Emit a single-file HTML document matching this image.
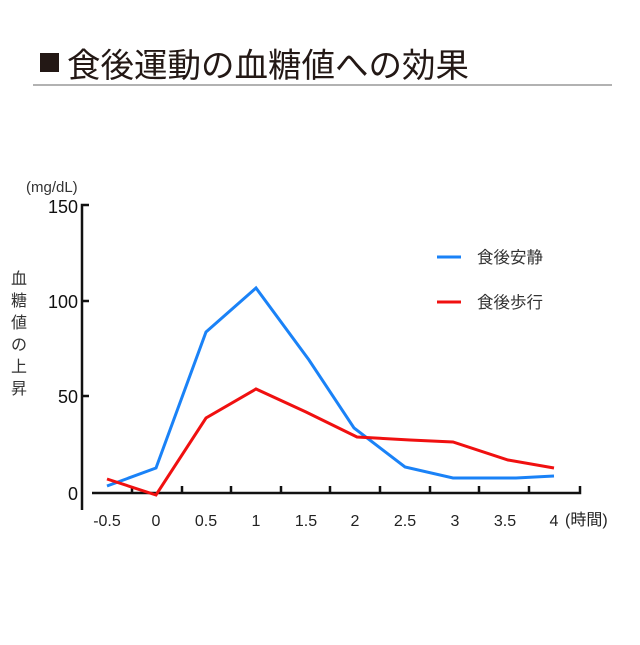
<!DOCTYPE html>
<html><head><meta charset="utf-8"><style>
body{margin:0;background:#fff;width:640px;height:640px;overflow:hidden}
svg text{font-family:"Liberation Sans","Noto Sans CJK JP",sans-serif}
</style></head><body>
<svg width="640" height="640" viewBox="0 0 640 640">
<rect x="40" y="53" width="19" height="19" fill="#231815"/>
<text x="67" y="77" font-size="33.5" fill="#231815">食後運動の血糖値への効果</text>
<line x1="33" y1="85" x2="612" y2="85" stroke="#666" stroke-width="1"/>
<text x="26" y="192" font-size="15" fill="#333">(mg/dL)</text>
<g font-size="18" fill="#111" text-anchor="end">
<text x="78" y="213">150</text><text x="78" y="308">100</text><text x="78" y="403">50</text><text x="78" y="500">0</text>
</g>
<g font-size="16" fill="#333" text-anchor="middle">
<text x="19" y="284">血</text><text x="19" y="306">糖</text><text x="19" y="328">値</text><text x="19" y="350">の</text><text x="19" y="372">上</text><text x="19" y="394">昇</text>
</g>
<g stroke="#111" stroke-width="2.5" fill="none">
<path d="M89 205H82V510"/>
<path d="M92 493H580V486"/>
<path d="M82 301H89M82 396H89"/>
<path d="M132 493v-7M182 493v-7M231 493v-7M281 493v-7M330 493v-7M380 493v-7M430 493v-7M479 493v-7M529 493v-7"/>
</g>
<g font-size="16" fill="#222" text-anchor="middle">
<text x="107" y="526">-0.5</text><text x="156" y="526">0</text><text x="206" y="526">0.5</text><text x="256" y="526">1</text><text x="306" y="526">1.5</text><text x="355" y="526">2</text><text x="405" y="526">2.5</text><text x="455" y="526">3</text><text x="505" y="526">3.5</text><text x="554" y="526">4</text>
</g>
<text x="565" y="525" font-size="16" fill="#222">(時間)</text>
<polyline fill="none" stroke="#1a82f7" stroke-width="3" points="107,486 156,468 206,332 256,288 309,360 354,428 405,467 453,478 516,478 554,476"/>
<polyline fill="none" stroke="#f01010" stroke-width="3" points="107,479 156,495 206,418 256,389 306,412 357,437 410,440 453,442 508,460 554,468"/>
<line x1="437" y1="257" x2="461" y2="257" stroke="#1a82f7" stroke-width="3"/>
<line x1="437" y1="302" x2="461" y2="302" stroke="#f01010" stroke-width="3"/>
<g font-size="16.5" fill="#333"><text x="477" y="263">食後安静</text><text x="477" y="308">食後歩行</text></g>
</svg>
</body></html>
